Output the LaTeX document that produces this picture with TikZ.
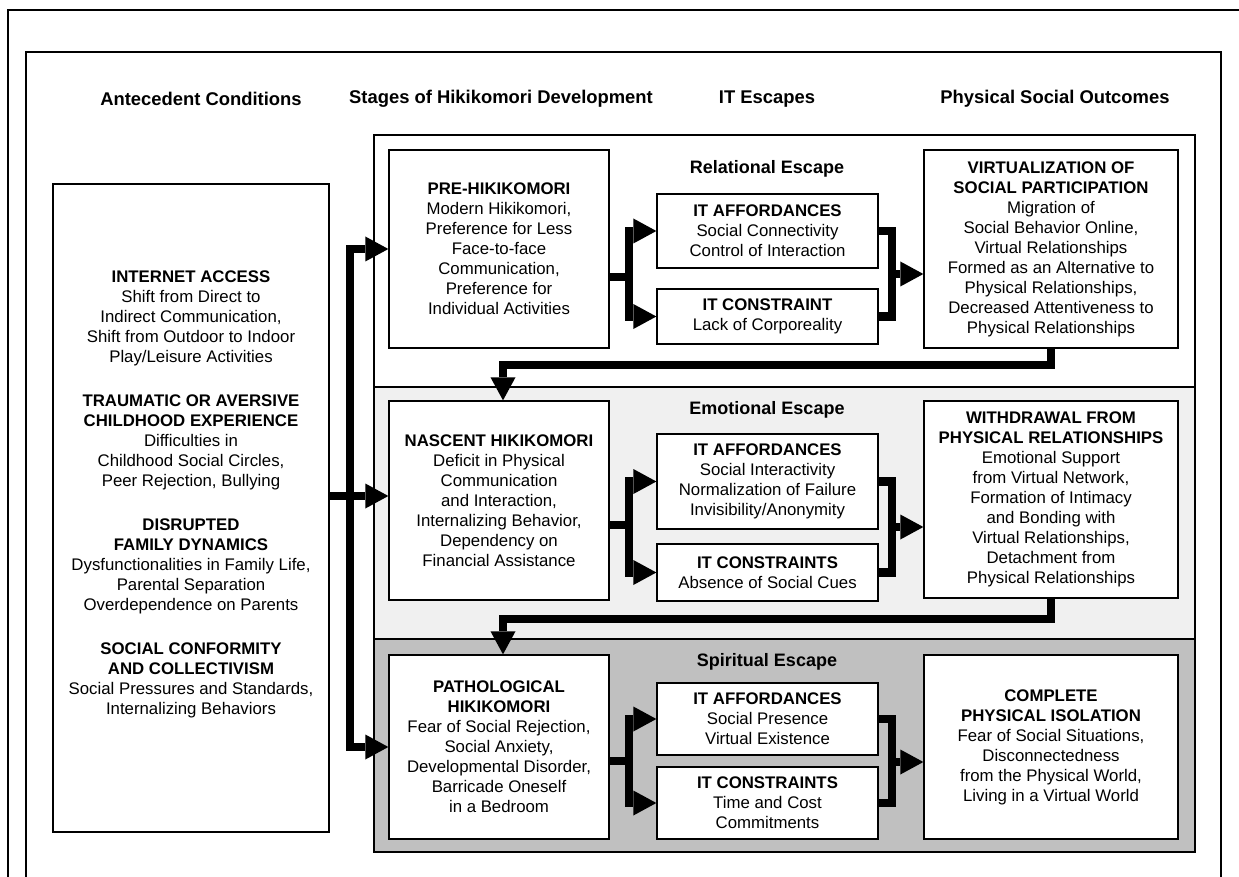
\documentclass[tikz,border=0pt]{standalone}
\usepackage{fontspec}
\setmainfont{Liberation Sans}
\usetikzlibrary{arrows.meta}
\definecolor{emofill}{RGB}{240,240,240}
\definecolor{spifill}{RGB}{192,192,192}
\begin{document}
\begin{tikzpicture}[x=1pt,y=-1pt,
  box/.style={draw=black, line width=1.3pt, fill=white, inner sep=0pt, align=center,
              font=\fontsize{16.8pt}{20pt}\selectfont},
  plain/.style={inner sep=0pt, align=center, font=\fontsize{16.8pt}{20pt}\selectfont},
  band/.style={draw=black, line width=1.6pt},
  conn/.style={line width=8.5pt, line join=miter, line cap=butt},
  arr/.style={conn, -{Triangle[length=23pt,width=25pt,line width=0pt]}},
  hdr/.style={font=\fontsize{18.4pt}{20pt}\selectfont\bfseries},
  ttl/.style={font=\fontsize{18pt}{20pt}\selectfont\bfseries},
]
\useasboundingbox (0,0) rectangle (1239,877);

% frames
\draw[line width=2.2pt] (8,890) -- (8,10) -- (1250,10);
\draw[line width=1.6pt] (26,890) -- (26,52) -- (1221,52) -- (1221,890);

% escape bands
\draw[band, fill=white]   (374,135) rectangle (1195,387);
\draw[band, fill=emofill] (374,387) rectangle (1195,639);
\draw[band, fill=spifill] (374,639) rectangle (1195,852);

% column headers
\node[hdr] (hA) at (201,99) {Antecedent Conditions};
\node[hdr] (hS) at (501,99) {Stages of Hikikomori Development};
\node[hdr] (hI) at (767,99) {IT Escapes};
\node[hdr] (hP) at (1055,99) {Physical Social Outcomes};

% band titles
\node[ttl] (tR) at (767,169) {Relational Escape};
\node[ttl] (tE) at (767,410) {Emotional Escape};
\node[ttl] (tS) at (767,662) {Spiritual Escape};

% antecedent conditions
\node[box, minimum width=276pt, minimum height=648pt] (ante) at (191,508) {};
\node[plain] (anteText) at (191,494.5) {%
\textbf{INTERNET ACCESS}\\Shift from Direct to\\Indirect Communication,\\Shift from Outdoor to Indoor\\Play/Leisure Activities\\[24pt]
\textbf{TRAUMATIC OR AVERSIVE}\\\textbf{CHILDHOOD EXPERIENCE}\\Difficulties in\\Childhood Social Circles,\\Peer Rejection, Bullying\\[24pt]
\textbf{DISRUPTED}\\\textbf{FAMILY DYNAMICS}\\Dysfunctionalities in Family Life,\\Parental Separation\\Overdependence on Parents\\[24pt]
\textbf{SOCIAL CONFORMITY}\\\textbf{AND COLLECTIVISM}\\Social Pressures and Standards,\\Internalizing Behaviors};

% stages
\node[box, minimum width=220pt, minimum height=198pt] (pre) at (499,249) {%
\textbf{PRE-HIKIKOMORI}\\Modern Hikikomori,\\Preference for Less\\Face-to-face\\Communication,\\Preference for\\Individual Activities};
\node[box, minimum width=220pt, minimum height=199pt] (nas) at (499,500.5) {%
\textbf{NASCENT HIKIKOMORI}\\Deficit in Physical\\Communication\\and Interaction,\\Internalizing Behavior,\\Dependency on\\Financial Assistance};
\node[box, minimum width=220pt, minimum height=184pt] (pat) at (499,747) {%
\textbf{PATHOLOGICAL}\\\textbf{HIKIKOMORI}\\Fear of Social Rejection,\\Social Anxiety,\\Developmental Disorder,\\Barricade Oneself\\in a Bedroom};

% IT escapes
\node[box, minimum width=221pt, minimum height=74pt] (relAff) at (767.5,231) {%
\textbf{IT AFFORDANCES}\\Social Connectivity\\Control of Interaction};
\node[box, minimum width=221pt, minimum height=55pt] (relCon) at (767.5,316.5) {%
\textbf{IT CONSTRAINT}\\Lack of Corporeality};
\node[box, minimum width=221pt, minimum height=95pt] (emoAff) at (767.5,481.5) {%
\textbf{IT AFFORDANCES}\\Social Interactivity\\Normalization of Failure\\Invisibility/Anonymity};
\node[box, minimum width=221pt, minimum height=57pt] (emoCon) at (767.5,572.5) {%
\textbf{IT CONSTRAINTS}\\Absence of Social Cues};
\node[box, minimum width=221pt, minimum height=72pt] (spiAff) at (767.5,719) {%
\textbf{IT AFFORDANCES}\\Social Presence\\Virtual Existence};
\node[box, minimum width=221pt, minimum height=72pt] (spiCon) at (767.5,803) {%
\textbf{IT CONSTRAINTS}\\Time and Cost\\Commitments};

% outcomes
\node[box, minimum width=254pt, minimum height=198pt] (virt) at (1051,249) {%
\textbf{VIRTUALIZATION OF}\\\textbf{SOCIAL PARTICIPATION}\\Migration of\\Social Behavior Online,\\Virtual Relationships\\Formed as an Alternative to\\Physical Relationships,\\Decreased Attentiveness to\\Physical Relationships};
\node[box, minimum width=254pt, minimum height=197pt] (wd) at (1051,499.5) {%
\textbf{WITHDRAWAL FROM}\\\textbf{PHYSICAL RELATIONSHIPS}\\Emotional Support\\from Virtual Network,\\Formation of Intimacy\\and Bonding with\\Virtual Relationships,\\Detachment from\\Physical Relationships};
\node[box, minimum width=254pt, minimum height=184pt] (comp) at (1051,747) {%
\textbf{COMPLETE}\\\textbf{PHYSICAL ISOLATION}\\Fear of Social Situations,\\Disconnectedness\\from the Physical World,\\Living in a Virtual World};

% junction points of the connectors
\coordinate (busL) at (350,496);
\coordinate (forkR) at (629,277);
\coordinate (forkE) at (629,525);
\coordinate (forkS) at (629,761);
\coordinate (joinR) at (892,274);
\coordinate (joinE) at (892,527);
\coordinate (joinS) at (892,762);
\coordinate (backR) at (503,365);
\coordinate (backE) at (503,619);

% antecedents to the three stages
\draw[arr] (ante.east |- busL) -- (nas.west |- busL);
\draw[arr] (busL) |- (pre.west);
\draw[arr] (busL) |- (pat.west);

% stages to IT affordances and constraints
\draw[conn] (pre.east |- forkR) -- (forkR);
\draw[arr] (forkR) |- (relAff.west);
\draw[arr] (forkR) |- (relCon.west);
\draw[conn] (nas.east |- forkE) -- (forkE);
\draw[arr] (forkE) |- (emoAff.west);
\draw[arr] (forkE) |- (emoCon.west);
\draw[conn] (pat.east |- forkS) -- (forkS);
\draw[arr] (forkS) |- (spiAff.west);
\draw[arr] (forkS) |- (spiCon.west);

% IT escapes to outcomes
\draw[conn] (relAff.east) -| (joinR) |- (relCon.east);
\draw[arr] (joinR) -- (virt.west |- joinR);
\draw[conn] (emoAff.east) -| (joinE) |- (emoCon.east);
\draw[arr] (joinE) -- (wd.west |- joinE);
\draw[conn] (spiAff.east) -| (joinS) |- (spiCon.east);
\draw[arr] (joinS) -- (comp.west |- joinS);

% outcomes feed the next stage
\draw[arr] (virt.south) |- (backR) -- (backR |- nas.north);
\draw[arr] (wd.south) |- (backE) -- (backE |- pat.north);
\end{tikzpicture}
\end{document}
